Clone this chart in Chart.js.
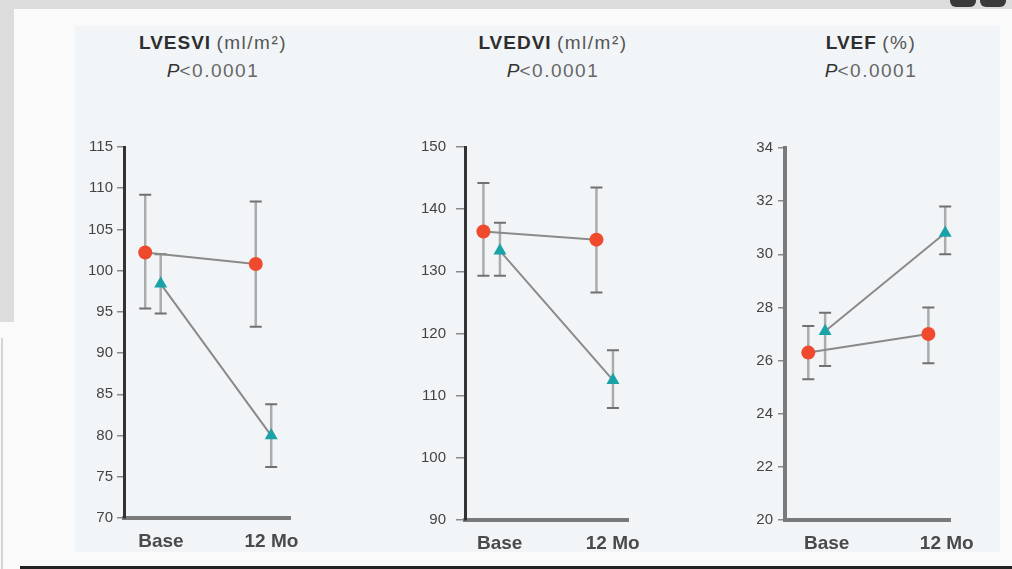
<!DOCTYPE html>
<html>
<head>
<meta charset="utf-8">
<script src="https://cdn.jsdelivr.net/npm/chart.js@4.4.0/dist/chart.umd.min.js"></script>
<style>
  html, body { margin: 0; padding: 0; }
  body { width: 1012px; height: 569px; position: relative; overflow: hidden; background: #fafafa; font-family: 'Liberation Sans', Arial, sans-serif; }
  .band-top { position: absolute; left: 0; top: 0; width: 1012px; height: 9px; background: #dcdcdc; }
  .band-left { position: absolute; left: 0; top: 0; width: 14px; height: 322px; background: #dcdcdc; }
  .line-left { position: absolute; left: 1px; top: 338px; width: 2px; height: 231px; background: #d4d4d4; }
  .line-bottom { position: absolute; left: 20px; top: 566px; width: 992px; height: 3px; background: #222; }
  .knob { position: absolute; top: -6px; width: 26px; height: 13px; border-radius: 6px; background: #3a3a3a; }
  .panel { position: absolute; left: 75px; top: 26px; width: 925px; height: 526px; background: #f2f5f7; }
  .title { position: absolute; width: 280px; text-align: center; color: #333; font-size: 19px; line-height: 28px; }
  .title b { font-weight: bold; letter-spacing: 1px; color: #2e2e2e; }
  .title .u { font-weight: normal; color: #555; letter-spacing: 1.5px; }
  .title i { font-style: italic; color: #333; }
  .title .p { color: #666; letter-spacing: 1.5px; }
  canvas { position: absolute; }
</style>
</head>
<body>
<div class="band-top"></div>
<div class="band-left"></div>
<div class="line-left"></div>
<div class="knob" style="left:950px"></div>
<div class="knob" style="left:980px"></div>
<div class="panel"></div>
<div class="line-bottom"></div>

<div class="title" style="left:73px;top:29px"><b>LVESVI</b> <span class="u">(ml/m²)</span><br><i>P</i><span class="p">&lt;0.0001</span></div>
<div class="title" style="left:413px;top:29px"><b>LVEDVI</b> <span class="u">(ml/m²)</span><br><i>P</i><span class="p">&lt;0.0001</span></div>
<div class="title" style="left:731px;top:29px"><b>LVEF</b> <span class="u">(%)</span><br><i>P</i><span class="p">&lt;0.0001</span></div>

<canvas id="c1" width="250" height="460" style="left:64px;top:100px;width:250px;height:460px"></canvas>
<canvas id="c2" width="250" height="460" style="left:405px;top:100px;width:250px;height:460px"></canvas>
<canvas id="c3" width="275" height="460" style="left:725px;top:100px;width:275px;height:460px"></canvas>

<script>
// x軸標籤
const timeLabels = ['Base', '12 Mo'];

// LVESVI
const esviTicks = [70, 75, 80, 85, 90, 95, 100, 105, 110, 115];
const esviRed = [102.2, 100.8];
const esviRedLo = [95.4, 93.2];
const esviRedHi = [109.2, 108.4];
const esviTeal = [98.4, 80.0];
const esviTealLo = [94.8, 76.2];
const esviTealHi = [102.0, 83.8];

// LVEDVI
const edviTicks = [90, 100, 110, 120, 130, 140, 150];
const edviRed = [136.4, 135.1];
const edviRedLo = [129.3, 126.6];
const edviRedHi = [144.2, 143.5];
const edviTeal = [133.3, 112.5];
const edviTealLo = [129.3, 108.0];
const edviTealHi = [137.8, 117.3];

// LVEF
const efTicks = [20, 22, 24, 26, 28, 30, 32, 34];
const efRed = [26.3, 27.0];
const efRedLo = [25.3, 25.9];
const efRedHi = [27.3, 28.0];
const efTeal = [27.1, 30.8];
const efTealLo = [25.8, 30.0];
const efTealHi = [27.8, 31.8];

const RED = '#f04a2e';
const TEAL = '#19a3a6';

// 誤差線 plugin
const errorBars = {
    id: 'errorBars',
    beforeDatasetsDraw(chart) {
        const ctx = chart.ctx;
        const y = chart.scales.y;
        chart.data.datasets.forEach((ds, di) => {
            const meta = chart.getDatasetMeta(di);
            meta.data.forEach((pt, i) => {
                const x = pt.x;
                const top = y.getPixelForValue(ds.errHi[i]);
                const bot = y.getPixelForValue(ds.errLo[i]);
                ctx.save();
                ctx.strokeStyle = '#ababab';
                ctx.lineWidth = 2.5;
                ctx.beginPath();
                ctx.moveTo(x, top);
                ctx.lineTo(x, bot);
                ctx.stroke();
                ctx.strokeStyle = '#707070';
                ctx.lineWidth = 2;
                ctx.beginPath();
                ctx.moveTo(x - 6, top); ctx.lineTo(x + 6, top);
                ctx.moveTo(x - 6, bot); ctx.lineTo(x + 6, bot);
                ctx.stroke();
                ctx.restore();
            });
        });
    }
};

function makeSeries(vals, lo, hi, shift, color, style) {
    return {
        data: vals.map((v, i) => ({ x: i + shift, y: v })),
        errLo: lo,
        errHi: hi,
        borderColor: '#8a8a8a',
        borderWidth: 2,
        pointStyle: style,
        pointRadius: style === 'triangle' ? 7.5 : 7,
        pointBackgroundColor: color,
        pointBorderColor: color,
        pointBorderWidth: 0,
        tension: 0,
        clip: false
    };
}

function makePanel(id, ticks, red, redLo, redHi, teal, tealLo, tealHi, opt) {
    const config = {
        type: 'line',
        data: {
            datasets: [
                makeSeries(red, redLo, redHi, -opt.d, RED, 'circle'),
                makeSeries(teal, tealLo, tealHi, opt.d, TEAL, 'triangle')
            ]
        },
        options: {
            responsive: false,
            animation: false,
            layout: { padding: { top: opt.padTop, right: opt.padRight, left: 0, bottom: 0 } },
            plugins: { legend: { display: false }, tooltip: { enabled: false } },
            scales: {
                x: {
                    type: 'linear',
                    min: opt.xmin,
                    max: opt.xmax,
                    afterBuildTicks: (s) => { s.ticks = timeLabels.map((t, i) => ({ value: i })); },
                    afterFit: (s) => { s.height = opt.xh; },
                    grid: { display: false },
                    border: { display: true, color: '#7a7a7a', width: 4 },
                    ticks: {
                        autoSkip: false,
                        maxRotation: 0,
                        padding: 4,
                        labelOffset: opt.labelShift,
                        color: '#4a4a4a',
                        font: { family: "'Liberation Sans', Arial", size: 19, weight: 'bold' },
                        callback: (v, i) => timeLabels[i]
                    }
                },
                y: {
                    min: ticks[0],
                    max: ticks[ticks.length - 1],
                    afterBuildTicks: (s) => { s.ticks = ticks.map(v => ({ value: v })); },
                    afterFit: (s) => { s.width = 60; },
                    grid: { drawOnChartArea: false, drawTicks: true, tickLength: opt.tickLen, color: '#8a8a8a', lineWidth: 1.5 },
                    border: { display: true, color: opt.yColor, width: opt.yWidth },
                    ticks: {
                        padding: opt.tickPad,
                        color: '#444',
                        font: { family: "'Liberation Sans', Arial", size: 15 }
                    }
                }
            }
        },
        plugins: [errorBars]
    };
    return new Chart(document.getElementById(id), config);
}

makePanel('c1', esviTicks, esviRed, esviRedLo, esviRedHi, esviTeal, esviTealLo, esviTealHi,
    { d: 0.07, xmin: -0.262, xmax: 1.24, padTop: 47, padRight: 24, xh: 42, labelShift: 8, tickLen: 7, tickPad: 4, yColor: '#333', yWidth: 3 });
makePanel('c2', edviTicks, edviRed, edviRedLo, edviRedHi, edviTeal, edviTealLo, edviTealHi,
    { d: 0.073, xmin: -0.236, xmax: 1.206, padTop: 47, padRight: 27, xh: 40, labelShift: 8, tickLen: 9, tickPad: 10, yColor: '#333', yWidth: 3 });
makePanel('c3', efTicks, efRed, efRedLo, efRedHi, efTeal, efTealLo, efTealHi,
    { d: 0.07, xmin: -0.264, xmax: 1.11, padTop: 48, padRight: 50, xh: 40, labelShift: 10, tickLen: 7, tickPad: 5, yColor: '#7a7a7a', yWidth: 4 });
</script>
</body>
</html>
